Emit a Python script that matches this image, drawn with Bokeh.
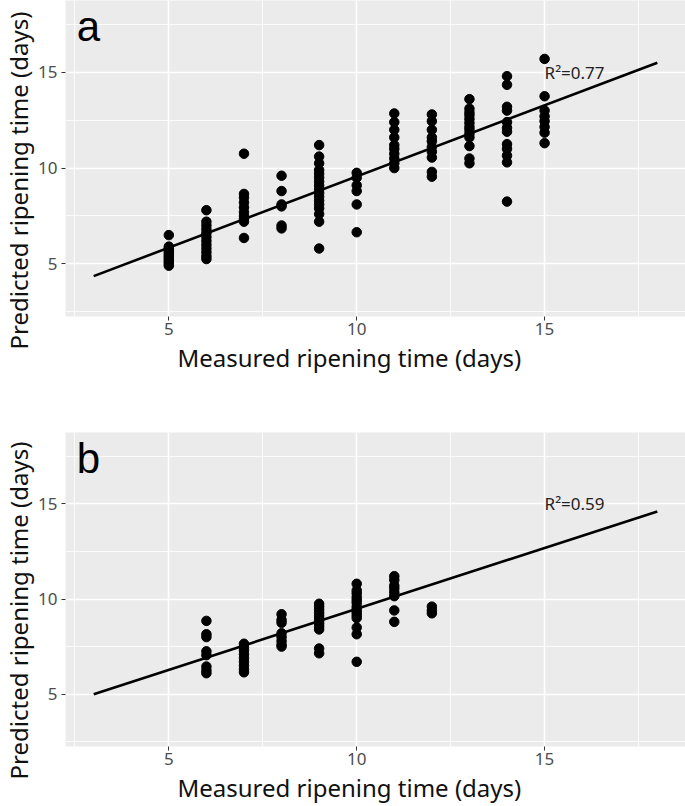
import math
from bokeh.plotting import figure
from bokeh.layouts import column, row
from bokeh.models import Label, Range1d, FixedTicker, Title
from bokeh.embed import file_html
from bokeh.resources import INLINE

# ---------------- data ----------------
# panel a
a_x5 = [6.5, 5.9, 5.8, 5.7, 5.6, 5.5, 5.4, 5.3, 5.2, 5.1, 5.0, 4.9]
a_x6 = [7.8, 7.2, 7.0, 6.8, 6.6, 6.4, 6.2, 6.0, 5.8, 5.6, 5.4, 5.25]
a_x7 = [10.75, 8.65, 8.45, 8.2, 7.95, 7.7, 7.5, 7.35, 7.2, 6.35]
a_x8 = [9.6, 8.8, 8.1, 8.0, 7.0, 6.85]
a_x9 = [11.2, 10.6, 10.25, 9.9, 9.7, 9.5, 9.3, 9.1, 8.9, 8.7, 8.5, 8.3, 8.1, 7.9, 7.6, 7.2, 5.8]
a_x10 = [9.75, 9.5, 9.1, 8.8, 8.1, 6.65]
a_x11 = [12.85, 12.4, 12.0, 11.6, 11.2, 11.0, 10.75, 10.5, 10.25, 10.0]
a_x12 = [12.8, 12.45, 12.0, 11.6, 11.4, 11.1, 10.85, 10.55, 9.8, 9.55]
a_x13 = [13.6, 13.1, 12.9, 12.75, 12.55, 12.35, 12.15, 12.0, 11.8, 11.6, 11.15, 10.5, 10.25]
a_x14 = [14.8, 14.35, 13.2, 13.0, 12.4, 12.1, 11.9, 11.25, 11.0, 10.65, 10.3, 8.25]
a_x15 = [15.7, 13.75, 13.0, 12.7, 12.45, 12.15, 11.85, 11.3]
a_groups = {5: a_x5, 6: a_x6, 7: a_x7, 8: a_x8, 9: a_x9, 10: a_x10,
            11: a_x11, 12: a_x12, 13: a_x13, 14: a_x14, 15: a_x15}
a_fit = (2.13, 0.743)   # intercept, slope
a_r2 = "R²=0.77"

# panel b
b_x6 = [8.85, 8.15, 8.0, 7.25, 7.05, 6.45, 6.25, 6.1]
b_x7 = [7.65, 7.45, 7.3, 7.1, 6.9, 6.7, 6.5, 6.3, 6.15]
b_x8 = [9.2, 8.9, 8.75, 8.2, 8.0, 7.8, 7.6, 7.5]
b_x9 = [9.75, 9.6, 9.45, 9.3, 9.15, 9.0, 8.85, 8.7, 8.55, 8.4, 7.4, 7.15]
b_x10 = [10.8, 10.45, 10.3, 10.1, 9.95, 9.8, 9.6, 9.45, 9.3, 9.15, 9.0, 8.5, 8.15, 6.7]
b_x11 = [11.2, 11.0, 10.7, 10.55, 10.35, 10.15, 9.4, 8.8]
b_x12 = [9.6, 9.4, 9.25]
b_groups = {6: b_x6, 7: b_x7, 8: b_x8, 9: b_x9, 10: b_x10, 11: b_x11, 12: b_x12}
b_fit = (3.08, 0.64)
b_r2 = "R²=0.59"

fit_x = [3, 18]
major_ticks = [5, 10, 15]
minor_ticks = [2.5, 7.5, 12.5, 17.5]
x_title = "Measured ripening time (days)"
y_title = "Predicted ripening time (days)"

FONT = "Noto Sans"
LETTER_FONT = "Liberation Sans"
TITLE_W = 35


def make_panel(groups, fit, r2, letter, height, border_bottom):
    p = figure(width=685 - TITLE_W, height=height, output_backend="svg", toolbar_location=None,
               x_range=Range1d(2.25, 18.75), y_range=Range1d(2.25, 18.75),
               min_border_left=63 - TITLE_W, min_border_right=0, min_border_top=0,
               min_border_bottom=border_bottom)
    p.background_fill_color = "#EBEBEB"
    p.border_fill_color = "white"
    p.outline_line_color = None
    for ax in (p.xaxis[0], p.yaxis[0]):
        ax.ticker = FixedTicker(ticks=major_ticks, minor_ticks=minor_ticks)
        ax.axis_line_color = None
        ax.major_tick_line_color = "#333333"
        ax.major_tick_out = 4
        ax.major_tick_in = 0
        ax.minor_tick_line_color = None
        ax.major_label_text_font = FONT
        ax.major_label_text_font_size = "17px"
        ax.major_label_text_color = "#4D4D4D"
    p.xaxis.major_label_standoff = 2
    p.yaxis.major_label_standoff = 4
    for g in (p.xgrid[0], p.ygrid[0]):
        g.grid_line_color = "white"
        g.grid_line_width = 1.6
        g.minor_grid_line_color = "white"
        g.minor_grid_line_width = 0.8

    xs, ys = [], []
    for k, vals in groups.items():
        xs += [k] * len(vals)
        ys += vals
    p.scatter(xs, ys, size=9.5, color="black", line_color="black")
    fy = [fit[0] + fit[1] * v for v in fit_x]
    p.line(fit_x, fy, line_color="black", line_width=2.6)

    p.add_layout(Label(x=15.0, y=15.0, text=r2, text_font=FONT, text_font_size="17px",
                       text_color="#222222", text_align="left", text_baseline="middle"))
    p.add_layout(Label(x=2.55, y=18.62, text=letter, text_font=LETTER_FONT,
                       text_font_size="42px", text_color="black",
                       text_align="left", text_baseline="top"))

    p.add_layout(Title(text=x_title, align="left", offset=112, text_font=FONT,
                       text_font_size="24px", text_font_style="normal",
                       text_color="#111111", standoff=2), "below")
    return p


pa = make_panel(a_groups, a_fit, a_r2, "a", 432, 116)
pb = make_panel(b_groups, b_fit, b_r2, "b", 374, 60)

# narrow strip holding the rotated y-axis titles
side = figure(width=TITLE_W, height=806, output_backend="svg", toolbar_location=None,
              x_range=Range1d(0, TITLE_W), y_range=Range1d(806, 0),
              min_border_left=0, min_border_right=0, min_border_top=0, min_border_bottom=0,
              x_axis_type=None, y_axis_type=None)
side.outline_line_color = None
side.grid.visible = False
side.background_fill_color = "white"
side.border_fill_color = "white"
for yc in (180, 610):
    side.add_layout(Label(x=17.5, y=yc, text=y_title, angle=math.pi / 2, text_font=FONT,
                          text_font_size="24px", text_color="#111111",
                          text_align="center", text_baseline="middle"))

layout = row(side, column(pa, pb, spacing=0), spacing=0)
open("out.html", "w").write(file_html(layout, INLINE))
